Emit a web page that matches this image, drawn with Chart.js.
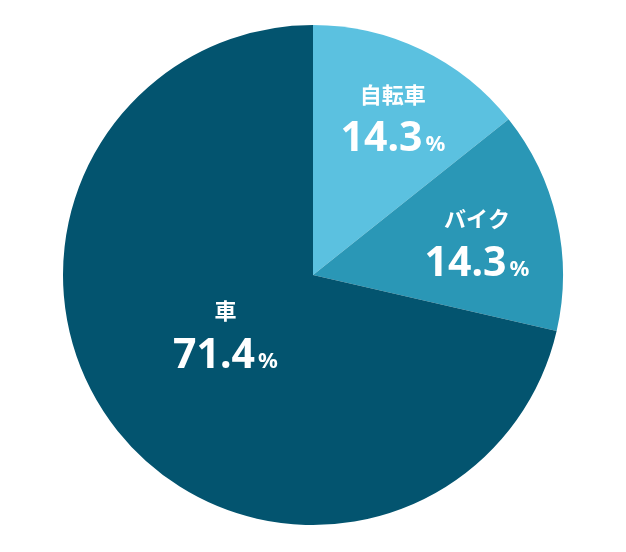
<!DOCTYPE html>
<html lang="ja">
<head>
<meta charset="utf-8">
<script src="https://cdn.jsdelivr.net/npm/chart.js@4/dist/chart.umd.min.js"></script>
<style>
  html, body { margin: 0; padding: 0; background: #fff; }
  #wrap { width: 626px; height: 552px; position: relative; }
</style>
</head>
<body>
<div id="wrap"><canvas id="pieChart"></canvas></div>
<script>
  // data
  const categories = ['自転車', 'バイク', '車'];
  const shares = [14.3, 14.3, 71.4];
  const sliceColors = ['#5BC1E0', '#2A97B6', '#03546F'];

  // label placement per slice: radius factor and small angle nudge (degrees)
  const labelRadius = [0.71, 0.67, 0.42];
  const labelNudge = [1, 1, 5];

  const FONT = "'Noto Sans', 'Noto Sans CJK JP', sans-serif";

  const sliceLabels = {
    id: 'sliceLabels',
    afterDatasetsDraw(chart) {
      const ctx = chart.ctx;
      const meta = chart.getDatasetMeta(0);
      const values = chart.data.datasets[0].data;
      const total = values.reduce((a, b) => a + b, 0);
      meta.data.forEach((arc, i) => {
        const p = arc.getProps(['x', 'y', 'startAngle', 'endAngle', 'outerRadius'], true);
        const mid = (p.startAngle + p.endAngle) / 2 + labelNudge[i] * Math.PI / 180;
        const r = p.outerRadius * labelRadius[i];
        const cx = p.x + Math.cos(mid) * r;
        const cy = p.y + Math.sin(mid) * r;

        ctx.save();
        ctx.fillStyle = '#fff';
        ctx.textAlign = 'center';
        ctx.textBaseline = 'middle';
        ctx.font = 'bold 22px ' + FONT;
        ctx.fillText(chart.data.labels[i], cx, cy - 20);

        // big number + small percent sign
        const num = (values[i] / total * 100).toFixed(1);
        ctx.textBaseline = 'alphabetic';
        ctx.font = 'bold 41px ' + FONT;
        const wNum = ctx.measureText(num).width;
        ctx.font = 'bold 22px ' + FONT;
        const wPct = ctx.measureText('%').width;
        const gap = 3;
        const left = cx - (wNum + gap + wPct) / 2;
        ctx.textAlign = 'left';
        ctx.font = 'bold 41px ' + FONT;
        ctx.fillText(num, left, cy + 35);
        ctx.font = 'bold 22px ' + FONT;
        ctx.fillText('%', left + wNum + gap, cy + 35);
        ctx.restore();
      });
    }
  };

  new Chart(document.getElementById('pieChart').getContext('2d'), {
    type: 'pie',
    data: {
      labels: categories,
      datasets: [{
        data: shares,
        backgroundColor: sliceColors,
        borderWidth: 0
      }]
    },
    options: {
      responsive: true,
      maintainAspectRatio: false,
      animation: false,
      layout: { padding: { top: 25, bottom: 27, left: 0, right: 0 } },
      plugins: {
        legend: { display: false },
        tooltip: { enabled: false }
      }
    },
    plugins: [sliceLabels]
  });
</script>
</body>
</html>
